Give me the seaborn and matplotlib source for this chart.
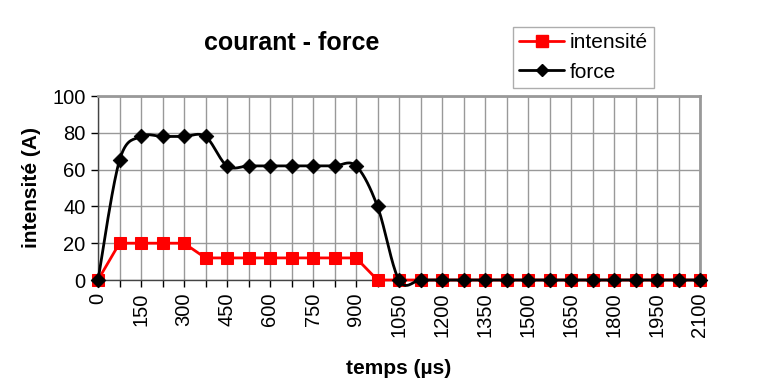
import numpy as np
import pandas as pd
import matplotlib
matplotlib.use("Agg")
import matplotlib.pyplot as plt
import seaborn as sns
from matplotlib.lines import Line2D

# data
temps = list(range(0, 2101, 75))  # µs
intensite = [0, 20, 20, 20, 20, 12, 12, 12, 12, 12, 12, 12, 12, 0, 0,
             0, 0, 0, 0, 0, 0, 0, 0, 0, 0, 0, 0, 0, 0]
force = [0, 65, 78, 78, 78, 78, 62, 62, 62, 62, 62, 62, 62, 40, 0,
         0, 0, 0, 0, 0, 0, 0, 0, 0, 0, 0, 0, 0, 0]
tick_labels = [str(t) for t in range(0, 2101, 150)]

df = pd.DataFrame({"temps": temps, "intensite": intensite, "force": force})


def smooth(x, y, n=20):
    # excel-like smoothed line (catmull-rom style bezier)
    x = np.asarray(x, float)
    y = np.asarray(y, float)
    xs, ys = [], []
    for i in range(len(x) - 1):
        i0 = max(i - 1, 0)
        i3 = min(i + 2, len(x) - 1)
        p0 = np.array([x[i], y[i]])
        p3 = np.array([x[i + 1], y[i + 1]])
        c1 = p0 + (p3 - np.array([x[i0], y[i0]])) / 6
        c2 = p3 - (np.array([x[i3], y[i3]]) - p0) / 6
        t = np.linspace(0, 1, n)[:, None]
        pts = ((1 - t) ** 3) * p0 + 3 * ((1 - t) ** 2) * t * c1 + 3 * (1 - t) * t ** 2 * c2 + t ** 3 * p3
        xs.extend(pts[:, 0])
        ys.extend(pts[:, 1])
    return np.array(xs), np.array(ys)


sns.set_style("white")
plt.rcParams["font.family"] = ["Liberation Sans", "DejaVu Sans"]
plt.rcParams["text.color"] = "black"
plt.rcParams["axes.labelcolor"] = "black"
plt.rcParams["xtick.color"] = "black"
plt.rcParams["ytick.color"] = "black"

fig = plt.figure(figsize=(7.64, 3.89), dpi=100)
ax = fig.add_axes([98 / 764, 1 - 280 / 389, 602 / 764, 184 / 389])

sns.lineplot(data=df, x="temps", y="intensite", ax=ax, color="#ff0000",
             linewidth=2, marker="s", markersize=8, markeredgecolor="#ff0000",
             zorder=3, clip_on=False)
sx, sy = smooth(df["temps"], df["force"])
ax.plot(sx, sy, color="black", linewidth=2, zorder=4, clip_on=False)
sns.scatterplot(data=df, x="temps", y="force", ax=ax, color="black",
                marker="D", s=55, edgecolor="black", zorder=5, clip_on=False)

ax.set_xlim(0, 2100)
ax.set_ylim(0, 100)
ax.set_yticks(range(0, 101, 20))
ax.set_xticks(temps, minor=True)
ax.set_xticks(range(0, 2101, 150))
ax.set_xticklabels(tick_labels, rotation=90)
ax.grid(True, which="both", axis="x", color="#999999", linewidth=1)
ax.grid(True, which="major", axis="y", color="#999999", linewidth=1)
ax.set_axisbelow(True)
ax.tick_params(axis="both", which="both", direction="out", length=5,
               width=1, color="black", labelsize=14.5, pad=4)
ax.tick_params(axis="x", which="both", bottom=True)
ax.tick_params(axis="y", left=True)

for s in ["top", "right"]:
    ax.spines[s].set_color("#999999")
    ax.spines[s].set_linewidth(2)
for s in ["left", "bottom"]:
    ax.spines[s].set_color("#444444")
    ax.spines[s].set_linewidth(1)

ax.set_xlabel("temps (µs)", fontsize=15, fontweight="bold")
ax.set_ylabel("intensité (A)", fontsize=15, fontweight="bold", labelpad=8)
ax.xaxis.set_label_coords(0.5, -0.43)

fig.text(292 / 764, 1 - 43 / 389, "courant - force", fontsize=18,
         fontweight="bold", ha="center", va="center")

handles = [
    Line2D([], [], color="#ff0000", linewidth=2, marker="s", markersize=9),
    Line2D([], [], color="black", linewidth=2, marker="D", markersize=6),
]
leg = fig.legend(handles, ["intensité", "force"], loc="upper left",
                 bbox_to_anchor=(513 / 764, 1 - 27 / 389), fontsize=15,
                 frameon=True, fancybox=False, handlelength=2.15,
                 handletextpad=0.25, borderpad=0.3, labelspacing=0.5,
                 borderaxespad=0)
leg.get_frame().set_edgecolor("#999999")
leg.get_frame().set_linewidth(1)

fig.savefig("out.png", dpi=100)
